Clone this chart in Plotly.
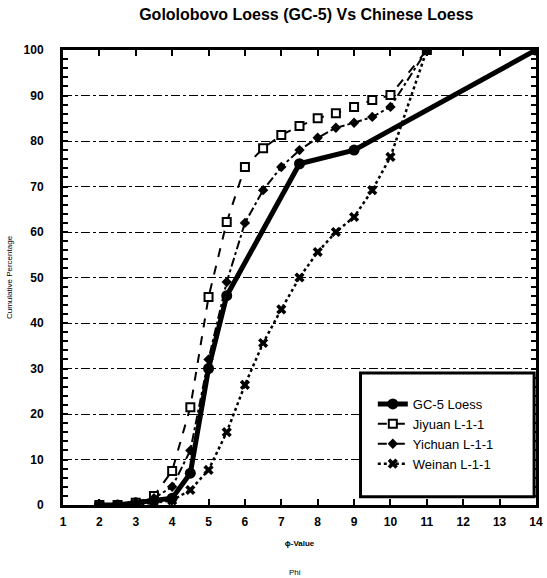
import plotly.graph_objects as go

# ---- data ----
phi = [2, 2.5, 3, 3.5, 4, 4.5, 5, 5.5, 6, 6.5, 7, 7.5, 8, 8.5, 9, 9.5, 10, 11]

gc5_phi = [2, 2.5, 3, 3.5, 4, 4.5, 5, 5.5, 7.5, 9, 14]
gc5_cum = [0, 0, 0.5, 1, 1.5, 7, 30, 46, 75, 78, 100]

jiyuan_cum = [0, 0, 0.5, 2, 7.5, 21.5, 45.7, 62.2, 74.3, 78.4, 81.3, 83.3, 85, 86.1, 87.5, 89, 90.1, 100]
yichuan_cum = [0, 0, 0.5, 1.5, 4, 12, 32, 49, 62, 69.2, 74.3, 78, 80.7, 82.9, 84, 85.3, 87.5, 100]
weinan_cum = [0, 0, 0, 0.5, 1, 3.3, 7.7, 16, 26.4, 35.6, 43, 50, 55.6, 60, 63.3, 69.2, 76.5, 100]

x_ticks = list(range(1, 15))
y_ticks = list(range(0, 101, 10))

FONT = "Liberation Sans, Arial, sans-serif"

fig = go.Figure()

fig.add_trace(go.Scatter(
    x=gc5_phi, y=gc5_cum, name="GC-5 Loess", mode="lines+markers",
    line=dict(color="black", width=5),
    marker=dict(symbol="circle", size=11, color="black"),
))
fig.add_trace(go.Scatter(
    x=phi, y=jiyuan_cum, name="Jiyuan L-1-1", mode="lines+markers",
    line=dict(color="black", width=2, dash="dash"),
    marker=dict(symbol="square", size=8, color="white", line=dict(color="black", width=2)),
))
fig.add_trace(go.Scatter(
    x=phi, y=yichuan_cum, name="Yichuan L-1-1", mode="lines+markers",
    line=dict(color="black", width=2, dash="dashdot"),
    marker=dict(symbol="diamond", size=8, color="black"),
))
fig.add_trace(go.Scatter(
    x=phi, y=weinan_cum, name="Weinan L-1-1", mode="lines+markers",
    line=dict(color="black", width=2.5, dash="dot"),
    marker=dict(symbol="x", size=9, color="black"),
))

fig.update_layout(
    width=547, height=578,
    margin=dict(l=63, r=4, t=50, b=73),
    paper_bgcolor="white", plot_bgcolor="white",
    font=dict(family=FONT, color="black"),
    title=dict(
        text="<b>Gololobovo Loess (GC-5) Vs Chinese Loess</b>",
        x=0.56, xanchor="center", y=0.975, yanchor="middle",
        font=dict(size=16, family=FONT, color="black"),
    ),
    showlegend=True,
    legend=dict(
        x=0.655, xanchor="left", y=0.255, yanchor="top",
        bgcolor="rgba(0,0,0,0)", borderwidth=0,
        font=dict(size=13, family=FONT, color="black"),
        tracegroupgap=0,
    ),
    shapes=[dict(
        type="rect", xref="paper", yref="paper",
        x0=0.629, x1=0.996, y0=0.018, y1=0.29,
        line=dict(color="black", width=3), fillcolor="white", layer="above",
    )],
    annotations=[dict(
        text="Phi", xref="paper", yref="paper", x=0.49, y=-0.148,
        xanchor="center", yanchor="middle", showarrow=False,
        font=dict(size=8, family=FONT, color="black"),
    )],
)

fig.update_xaxes(
    range=[1, 14], tickvals=x_ticks, ticktext=[str(v) for v in x_ticks],
    ticks="inside", ticklen=6, tickwidth=2, tickcolor="black",
    showline=True, linewidth=3, linecolor="black", mirror="ticks",
    showgrid=False, zeroline=False,
    tickfont=dict(size=12, family=FONT, color="black", weight="bold"),
    ticklabelstandoff=4,
    title=dict(text="<b>ɸ-Value</b>", font=dict(size=8, family=FONT, color="black"), standoff=12),
)
fig.update_yaxes(
    range=[0, 100], tickvals=y_ticks, ticktext=[str(v) for v in y_ticks],
    ticks="inside", ticklen=5, tickwidth=2, tickcolor="black",
    minor=dict(dtick=2, ticks="inside", ticklen=5, tickwidth=2, tickcolor="black", showgrid=False),
    showline=True, linewidth=3, linecolor="black", mirror="ticks",
    showgrid=True, gridcolor="black", gridwidth=1, griddash="dashdot",
    zeroline=False,
    tickfont=dict(size=12, family=FONT, color="black", weight="bold"),
    ticklabelstandoff=14,
    title=dict(text="Cumulative Percentage", font=dict(size=8, family=FONT, color="black"), standoff=10),
)

fig.write_html("out.html")
